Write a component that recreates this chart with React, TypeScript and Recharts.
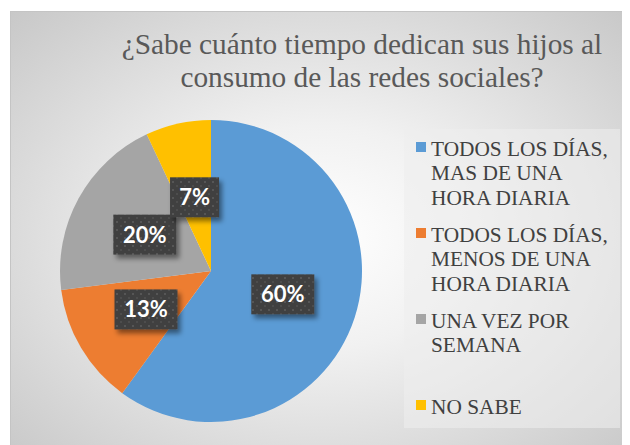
import React from "react";
import { PieChart, Pie, Cell, Legend } from "recharts";

const categories = [
  "TODOS LOS DÍAS, MAS DE UNA HORA DIARIA",
  "TODOS LOS DÍAS, MENOS DE UNA HORA DIARIA",
  "UNA VEZ POR SEMANA",
  "NO SABE",
];
const values = [60, 13, 20, 7];
const colors = ["#5B9BD5", "#ED7D31", "#A5A5A5", "#FFC000"];
const title = "¿Sabe cuánto tiempo dedican sus hijos al consumo de las redes sociales?";

const data = categories.map((name, i) => ({ name, value: values[i] }));

const RAD = Math.PI / 180;
const SERIF = "'Liberation Serif', Tinos, 'Times New Roman', Times, serif";

const renderLabel = (props: any) => {
  const { cx, cy, midAngle, outerRadius, percent, index } = props;
  const r = outerRadius * 0.5;
  const x = cx + r * Math.cos(-midAngle * RAD);
  const y = cy + r * Math.sin(-midAngle * RAD);
  const text = `${Math.round(percent * 100)}%`;
  const w = 14 * text.length + 21;
  const h = 40;
  const pid = `dots-${index}`;
  const fid = `shadow-${index}`;
  return (
    <g>
      <defs>
        <pattern id={pid} width="8" height="8" patternUnits="userSpaceOnUse">
          <rect width="8" height="8" fill="#404040" />
          <rect x="2" y="2" width="2" height="2" fill="#575757" />
          <rect x="6" y="6" width="2" height="2" fill="#4d4d4d" />
        </pattern>
        <filter id={fid} x="-30%" y="-30%" width="160%" height="170%">
          <feDropShadow dx="3" dy="4" stdDeviation="2.5" floodColor="#000" floodOpacity="0.45" />
        </filter>
      </defs>
      <rect x={x - w / 2} y={y - h / 2} width={w} height={h} fill={`url(#${pid})`} filter={`url(#${fid})`} />
      <text
        x={x}
        y={y + 8}
        textAnchor="middle"
        fill="#ffffff"
        fontFamily="Lato, 'Open Sans', sans-serif"
        fontWeight="bold"
        fontSize={22}
      >
        {text}
      </text>
    </g>
  );
};

const renderLegend = () => (
  <div
    style={{
      position: "relative",
      width: 216,
      height: 299,
      background: "rgba(238,238,238,0.58)",
      fontFamily: SERIF,
      fontSize: 21.33,
      lineHeight: "24.5px",
      color: "#404040",
    }}
  >
    {categories.map((c, i) => (
      <div
        key={c}
        style={{ position: "absolute", left: 0, top: 7.5 + i * 86, width: 216, height: 86 }}
      >
        <div
          style={{
            position: "absolute",
            left: 12,
            top: 5.5,
            width: 10,
            height: 10,
            background: colors[i],
          }}
        />
        <div style={{ position: "absolute", left: 27, top: 0, width: 185 }}>{c}</div>
      </div>
    ))}
  </div>
);

export default function App() {
  return (
    <div
      style={{
        position: "relative",
        marginLeft: 2,
        marginTop: 3,
        width: 620,
        height: 434,
        borderTop: "1px solid #c4c4c4",
        borderLeft: "1px solid #c4c4c4",
        boxSizing: "border-box",
        background:
          "radial-gradient(ellipse farthest-corner at 50% 52%, #ffffff 0%, #f1f1f1 35%, #c8c8c8 100%)",
        overflow: "hidden",
      }}
    >
      <div
        style={{
          position: "absolute",
          left: 101,
          top: 15.5,
          width: 500,
          textAlign: "center",
          fontFamily: SERIF,
          fontSize: 29.33,
          lineHeight: "33.7px",
          color: "#595959",
        }}
      >
        {title}
      </div>
      <div style={{ position: "absolute", left: -1, top: -1 }}>
        <PieChart width={620} height={434}>
          <Pie
            data={data}
            dataKey="value"
            nameKey="name"
            cx={196}
            cy={255}
            outerRadius={151}
            startAngle={90}
            endAngle={-270}
            stroke="none"
            label={renderLabel}
            labelLine={false}
            isAnimationActive={false}
          >
            {data.map((d, i) => (
              <Cell key={d.name} fill={colors[i]} />
            ))}
          </Pie>
          <Legend
            content={renderLegend}
            wrapperStyle={{ position: "absolute", left: 394, top: 118, width: 216, height: 299 }}
          />
        </PieChart>
      </div>
    </div>
  );
}
